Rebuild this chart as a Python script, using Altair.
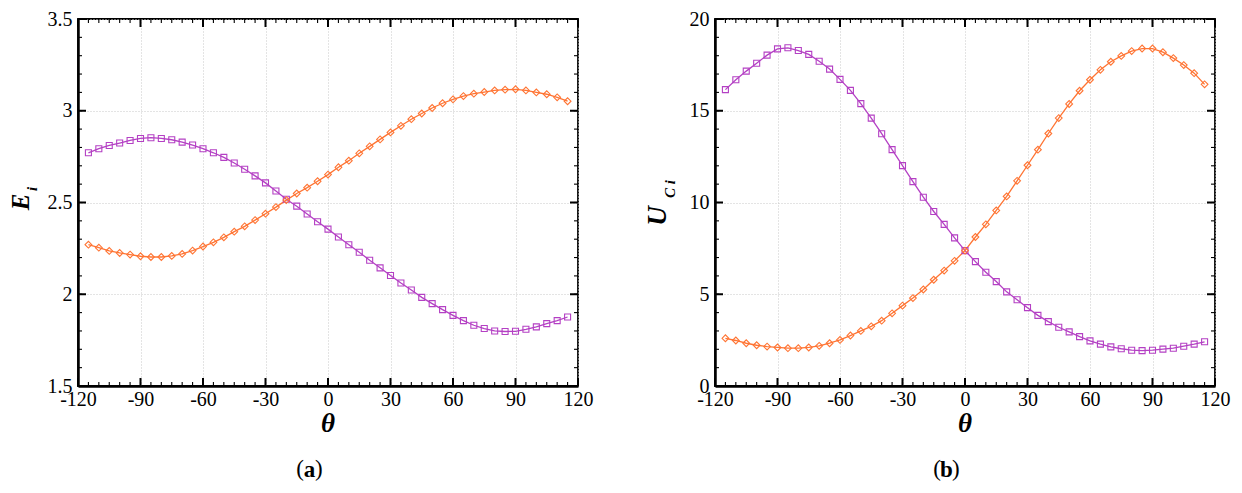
import altair as alt
import pandas as pd

# ---------------- data ----------------
theta = [-115, -110, -105, -100, -95, -90, -85, -80, -75, -70, -65, -60, -55, -50,
         -45, -40, -35, -30, -25, -20, -15, -10, -5, 0, 5, 10, 15, 20, 25, 30, 35,
         40, 45, 50, 55, 60, 65, 70, 75, 80, 85, 90, 95, 100, 105, 110, 115]

E_purple = [2.771, 2.793, 2.811, 2.824, 2.838, 2.849, 2.853, 2.849, 2.842, 2.829,
            2.813, 2.793, 2.771, 2.746, 2.715, 2.681, 2.645, 2.607, 2.563, 2.518,
            2.480, 2.437, 2.395, 2.355, 2.312, 2.270, 2.229, 2.185, 2.144, 2.102,
            2.061, 2.023, 1.983, 1.949, 1.916, 1.885, 1.856, 1.831, 1.813, 1.800,
            1.797, 1.798, 1.809, 1.822, 1.840, 1.856, 1.876]
E_orange = [2.270, 2.254, 2.236, 2.225, 2.216, 2.207, 2.203, 2.203, 2.209, 2.220,
            2.238, 2.260, 2.283, 2.310, 2.341, 2.370, 2.404, 2.439, 2.475, 2.513,
            2.549, 2.581, 2.616, 2.652, 2.692, 2.728, 2.768, 2.806, 2.844, 2.882,
            2.918, 2.954, 2.985, 3.015, 3.041, 3.062, 3.080, 3.093, 3.102, 3.111,
            3.115, 3.117, 3.111, 3.100, 3.090, 3.073, 3.052]

U_purple = [16.15, 16.69, 17.16, 17.59, 18.03, 18.37, 18.43, 18.28, 18.07, 17.70,
            17.27, 16.71, 16.11, 15.39, 14.60, 13.75, 12.88, 12.01, 11.14, 10.29,
            9.51, 8.81, 8.07, 7.38, 6.78, 6.20, 5.69, 5.13, 4.70, 4.27, 3.85, 3.51,
            3.20, 2.95, 2.69, 2.46, 2.28, 2.13, 2.03, 1.95, 1.93, 1.95, 2.01, 2.06,
            2.17, 2.28, 2.41]
U_orange = [2.60, 2.48, 2.33, 2.22, 2.15, 2.10, 2.06, 2.06, 2.10, 2.19, 2.33, 2.51,
            2.75, 3.00, 3.25, 3.56, 3.96, 4.38, 4.79, 5.26, 5.79, 6.29, 6.82, 7.38,
            8.12, 8.81, 9.57, 10.33, 11.18, 12.03, 12.88, 13.76, 14.60, 15.37, 16.09,
            16.69, 17.23, 17.67, 17.99, 18.25, 18.39, 18.39, 18.19, 17.87, 17.49,
            17.05, 16.44]

x_major = [-120, -90, -60, -30, 0, 30, 60, 90, 120]
x_minor = [-120, -115, -110, -105, -100, -95, -90, -85, -80, -75, -70, -65, -60,
           -55, -50, -45, -40, -35, -30, -25, -20, -15, -10, -5, 0, 5, 10, 15, 20,
           25, 30, 35, 40, 45, 50, 55, 60, 65, 70, 75, 80, 85, 90, 95, 100, 105,
           110, 115, 120]
ya_major = [1.5, 2.0, 2.5, 3.0, 3.5]
ya_minor = [1.5, 1.6, 1.7, 1.8, 1.9, 2.0, 2.1, 2.2, 2.3, 2.4, 2.5, 2.6, 2.7, 2.8,
            2.9, 3.0, 3.1, 3.2, 3.3, 3.4, 3.5]
yb_major = [0, 5, 10, 15, 20]
yb_minor = [0, 1, 2, 3, 4, 5, 6, 7, 8, 9, 10, 11, 12, 13, 14, 15, 16, 17, 18, 19, 20]

PURPLE = "#b440c4"
ORANGE = "#ff7433"
W, H = 500, 367
SERIF = "'Liberation Serif', 'Times New Roman', Times, serif"


def panel(yp, yo, ydom, ymaj, ymin, ytitle_parts, caption):
    df = pd.DataFrame({
        "x": theta * 2,
        "y": yp + yo,
        "s": ["p"] * len(theta) + ["o"] * len(theta),
    })
    xs = alt.Scale(domain=[-120, 120], nice=False, zero=False)
    ys = alt.Scale(domain=ydom, nice=False, zero=False)

    xaxis = alt.Axis(values=x_major, title=None, grid=True, gridColor="#c8c8c8",
                     gridDash=[1, 2], gridWidth=1, ticks=False, tickSize=0,
                     domain=True, domainColor="black", domainWidth=2.5,
                     labelFont=SERIF, labelFontSize=20, labelColor="black",
                     labelPadding=3, labelFlush=False, labelOverlap=False,
                     labelExpr="'' + datum.value")
    yaxis = alt.Axis(values=ymaj, title=None, grid=True, gridColor="#c8c8c8",
                     gridDash=[1, 2], gridWidth=1, ticks=False, tickSize=0,
                     domain=True, domainColor="black", domainWidth=2.5,
                     labelFont=SERIF, labelFontSize=20, labelColor="black",
                     labelPadding=6, labelFlush=False, labelOverlap=False,
                     labelExpr="'' + datum.value")

    X = lambda: alt.X("x:Q", scale=xs, axis=xaxis)
    Y = lambda: alt.Y("y:Q", scale=ys, axis=yaxis)

    color = alt.Color("s:N", scale=alt.Scale(domain=["p", "o"], range=[PURPLE, ORANGE]),
                      legend=None)
    shape = alt.Shape("s:N", scale=alt.Scale(domain=["p", "o"], range=["square", "diamond"]),
                      legend=None)

    lines = alt.Chart(df).mark_line(strokeWidth=1.3).encode(
        x=X(), y=Y(), color=color, detail="s:N",
    )
    pts = alt.Chart(df).mark_point(filled=False, strokeWidth=1.1, opacity=1).encode(
        x=X(), y=Y(), color=color, shape=shape,
        size=alt.Size("s:N", scale=alt.Scale(domain=["p", "o"], range=[36, 46]), legend=None),
    )

    layers = [lines, pts]

    # inward ticks on all four sides
    def xticks(vals, length, width):
        d = pd.DataFrame({"x": vals})
        bot = alt.Chart(d).mark_rule(color="black", strokeWidth=width).encode(
            x=X(), y=alt.value(H), y2=alt.value(H - length))
        top = alt.Chart(d).mark_rule(color="black", strokeWidth=width).encode(
            x=X(), y=alt.value(0), y2=alt.value(length))
        return [bot, top]

    def yticks(vals, length, width):
        d = pd.DataFrame({"y": vals})
        lft = alt.Chart(d).mark_rule(color="black", strokeWidth=width).encode(
            y=Y(), x=alt.value(0), x2=alt.value(length))
        rgt = alt.Chart(d).mark_rule(color="black", strokeWidth=width).encode(
            y=Y(), x=alt.value(W), x2=alt.value(W - length))
        return [lft, rgt]

    layers += xticks(x_minor, 4, 1.1) + xticks(x_major, 8, 2)
    layers += yticks(ymin, 4, 1.1) + yticks(ymaj, 8, 2)

    one = pd.DataFrame({"k": [0]})

    def txt(s, x, y, size, weight="normal", style="normal", angle=0, align="center"):
        return alt.Chart(one).mark_text(
            text=s, font=SERIF, fontSize=size, fontWeight=weight, fontStyle=style,
            angle=angle, align=align, baseline="middle", color="black",
        ).encode(x=alt.value(x), y=alt.value(y))

    # x title
    layers.append(txt("θ", 250, 405, 27, "bold", "italic"))
    # y title parts
    for (s, x, y, size) in ytitle_parts:
        layers.append(txt(s, x, y, size, "bold", "italic", angle=270))
    # caption
    layers.append(txt("(", 226, 450, 23, align="right"))
    layers.append(txt(caption, 231.5, 451, 23, "bold"))
    layers.append(txt(")", 237, 450, 23, align="left"))

    return alt.layer(*layers).properties(width=W, height=H)


pa = panel(E_purple, E_orange, [1.5, 3.5], ya_major, ya_minor,
           [("E", -57, 183, 25), ("i", -46, 170, 15)], "a")
pb = panel(U_purple, U_orange, [0, 20], yb_major, yb_minor,
           [("U", -57, 197, 27), ("C i", -45, 170, 15)], "b")

chart = alt.hconcat(pa, pb, spacing=137, bounds="flush").configure_view(
    stroke="black", strokeWidth=1.8
).properties(background="white", padding={"left": 0, "top": 0, "right": 0, "bottom": 0})

chart.save("out.html", embed_options={"renderer": "svg", "actions": False})
